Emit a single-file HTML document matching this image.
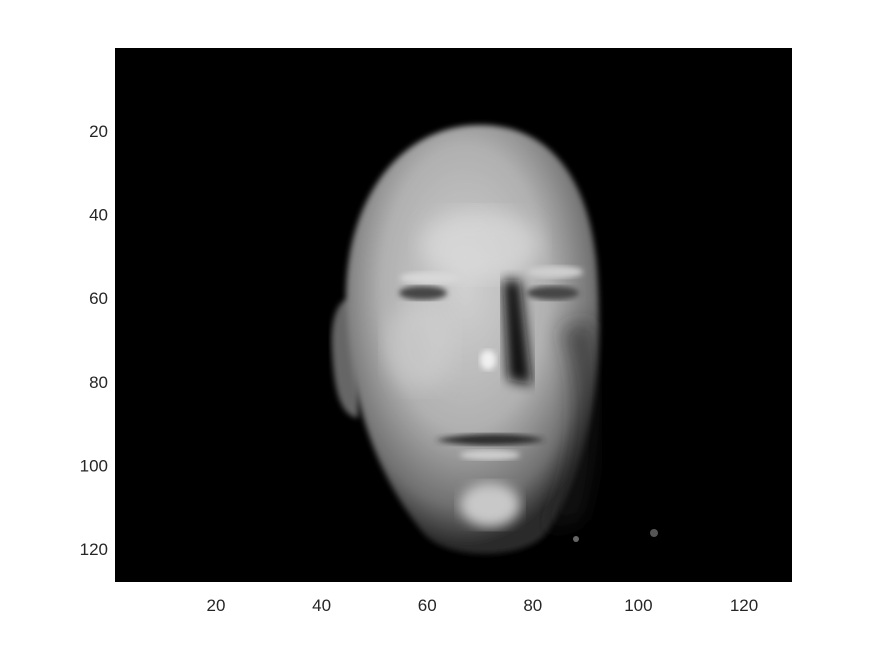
<!DOCTYPE html>
<html><head><meta charset="utf-8">
<style>
body{margin:0;background:#fff;width:875px;height:656px;overflow:hidden}
svg{display:block;font-family:"Liberation Sans",sans-serif}
</style></head><body>
<svg width="875" height="656" viewBox="0 0 875 656">
<defs>
<radialGradient id="skin" cx="0.47" cy="0.38" r="0.6">
<stop offset="0" stop-color="#d0d0d0"/>
<stop offset="0.55" stop-color="#b0b0b0"/>
<stop offset="0.85" stop-color="#707070"/>
<stop offset="1" stop-color="#2a2a2a"/>
</radialGradient>
<filter id="b6"><feGaussianBlur stdDeviation="6"/></filter>
<filter id="b3"><feGaussianBlur stdDeviation="3"/></filter>
<filter id="b10"><feGaussianBlur stdDeviation="10"/></filter>
<clipPath id="ax"><rect x="115" y="48" width="677" height="534"/></clipPath>
</defs>
<rect x="115" y="48" width="677" height="534" fill="#000"/>
<g clip-path="url(#ax)">
<path d="M348 300 C338 300 330 320 332 350 C334 390 340 415 358 418 L362 300 Z" fill="#666" filter="url(#b3)"/>
<path d="M480 125 C560 125 595 195 598 285 C603 375 590 470 545 535 C520 560 450 560 425 535 C375 475 348 395 346 300 C345 200 400 125 480 125 Z" fill="url(#skin)" filter="url(#b3)"/>
<ellipse cx="480" cy="245" rx="60" ry="35" fill="#e0e0e0" opacity="0.6" filter="url(#b10)"/>
<ellipse cx="420" cy="345" rx="35" ry="45" fill="#d4d4d4" opacity="0.5" filter="url(#b10)"/>
<ellipse cx="430" cy="278" rx="30" ry="6" fill="#d8d8d8" filter="url(#b3)"/>
<ellipse cx="555" cy="272" rx="28" ry="6" fill="#cfcfcf" filter="url(#b3)"/>
<ellipse cx="423" cy="293" rx="24" ry="7" fill="#444" filter="url(#b3)"/>
<ellipse cx="553" cy="293" rx="26" ry="7" fill="#444" filter="url(#b3)"/>
<path d="M503 280 L520 280 L532 385 L508 380 Z" fill="#111" filter="url(#b6)"/>
<ellipse cx="488" cy="360" rx="8" ry="10" fill="#f0f0f0" filter="url(#b3)"/>
<path d="M560 330 C585 380 580 470 545 530 L580 520 C600 450 600 360 590 320 Z" fill="#222" opacity="0.6" filter="url(#b10)"/>
<path d="M435 440 C470 432 520 432 545 440 C520 446 470 448 435 440 Z" fill="#2a2a2a" filter="url(#b3)"/>
<ellipse cx="490" cy="455" rx="30" ry="5" fill="#cfcfcf" filter="url(#b3)"/>
<ellipse cx="490" cy="505" rx="30" ry="22" fill="#c8c8c8" filter="url(#b6)"/>
<circle cx="576" cy="539" r="3" fill="#666"/>
<circle cx="654" cy="533" r="4" fill="#555"/>
</g>
<g id="ticks" font-size="17" fill="#262626"></g>
<script>
const xTicks=[20,40,60,80,100,120];
const yTicks=[20,40,60,80,100,120];
const xs=v=>216+(v-20)*5.28, ys=v=>131+(v-20)*4.18;
const g=document.getElementById('ticks');
const NS='http://www.w3.org/2000/svg';
xTicks.forEach(v=>{const t=document.createElementNS(NS,'text');
t.setAttribute('x',xs(v));t.setAttribute('y',611);t.setAttribute('text-anchor','middle');t.textContent=v;


g.appendChild(t);});
yTicks.forEach(v=>{const t=document.createElementNS(NS,'text');
t.setAttribute('x',108);t.setAttribute('y',ys(v)+6);t.setAttribute('text-anchor','end');t.textContent=v;


g.appendChild(t);});
</script>
</svg>
</body></html>
